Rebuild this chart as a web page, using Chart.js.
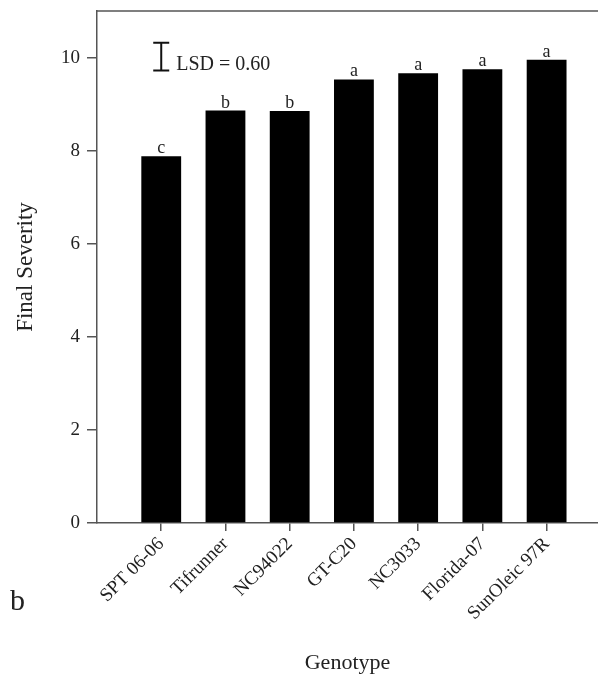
<!DOCTYPE html>
<html>
<head>
<meta charset="utf-8">
<script src="https://cdn.jsdelivr.net/npm/chart.js@4/dist/chart.umd.min.js"></script>
<style>
  html, body { margin: 0; padding: 0; background: #fff; }
</style>
</head>
<body>
<canvas id="chart" width="598" height="686"></canvas>
<script>
const genotypes = ['SPT 06-06', 'Tifrunner', 'NC94022', 'GT-C20', 'NC3033', 'Florida-07', 'SunOleic 97R'];
const finalSeverity = [7.88, 8.86, 8.85, 9.53, 9.66, 9.75, 9.95];
const groupLetters = ['c', 'b', 'b', 'a', 'a', 'a', 'a'];
const yTicks = [0, 2, 4, 6, 8, 10];
const lsd = 0.60;
const lsdTop = 10.32;

const serif = "'Liberation Serif', 'Times New Roman', serif";
const axisColor = '#555';

// letters above bars, LSD bar, top frame line, panel letter
const extras = {
  id: 'extras',
  afterDatasetsDraw(chart) {
    const { ctx, chartArea, scales } = chart;
    const meta = chart.getDatasetMeta(0);
    ctx.save();
    ctx.fillStyle = '#222';
    ctx.font = '18px ' + serif;
    ctx.textAlign = 'center';
    ctx.textBaseline = 'alphabetic';
    meta.data.forEach((bar, i) => {
      ctx.fillText(groupLetters[i], bar.x, bar.y - 3);
    });

    // frame line across the top
    ctx.strokeStyle = axisColor;
    ctx.lineWidth = 1.5;
    ctx.beginPath();
    ctx.moveTo(chartArea.left, chartArea.top);
    ctx.lineTo(chartArea.right, chartArea.top);
    ctx.stroke();

    // LSD bar
    const x = scales.x.getPixelForValue(1);
    const y1 = scales.y.getPixelForValue(lsdTop);
    const y2 = scales.y.getPixelForValue(lsdTop - lsd);
    ctx.strokeStyle = '#111';
    ctx.lineWidth = 2;
    ctx.beginPath();
    ctx.moveTo(x, y1); ctx.lineTo(x, y2);
    ctx.moveTo(x - 8, y1); ctx.lineTo(x + 8, y1);
    ctx.moveTo(x - 8, y2); ctx.lineTo(x + 8, y2);
    ctx.stroke();
    ctx.textAlign = 'left';
    ctx.font = '20px ' + serif;
    ctx.fillText('LSD = ' + lsd.toFixed(2), x + 15, y2 - 1);

    ctx.font = '30px ' + serif;
    ctx.fillText('b', 10, 610);
    ctx.restore();
  }
};

new Chart(document.getElementById('chart'), {
  type: 'bar',
  data: {
    datasets: [{
      data: finalSeverity.map((v, i) => ({ x: i + 1, y: v })),
      backgroundColor: '#000',
      borderWidth: 0,
      barPercentage: 0.62,
      categoryPercentage: 1,
    }],
  },
  options: {
    responsive: false,
    animation: false,
    devicePixelRatio: 1,
    layout: { padding: { top: 11, right: 0, left: 0, bottom: 0 } },
    plugins: { legend: { display: false }, tooltip: { enabled: false } },
    scales: {
      x: {
        type: 'linear',
        min: 0,
        max: 7.8,
        offset: false,
        afterBuildTicks: scale => { scale.ticks = genotypes.map((_, i) => ({ value: i + 1 })); },
        afterFit: scale => { scale.height = 163; scale.paddingLeft = 0; scale.paddingRight = 0; },
        grid: { offset: false, drawOnChartArea: false, tickLength: 8, color: axisColor, lineWidth: 1.5 },
        border: { color: axisColor, width: 1.5 },
        ticks: {
          autoSkip: false,
          minRotation: 45,
          maxRotation: 45,
          padding: 2,
          color: '#222',
          font: { family: serif, size: 19 },
          callback: v => genotypes[v - 1] || '',
        },
        title: {
          display: true,
          text: 'Genotype',
          color: '#222',
          font: { family: serif, size: 22 },
          padding: { top: 4, bottom: 10 },
        },
      },
      y: {
        min: 0,
        max: 11,
        afterBuildTicks: scale => { scale.ticks = yTicks.map(v => ({ value: v })); },
        afterFit: scale => { scale.width = 97; scale.paddingTop = 0; scale.paddingBottom = 0; },
        grid: { drawOnChartArea: false, tickLength: 10, color: axisColor, lineWidth: 1.5 },
        border: { color: axisColor, width: 1.5 },
        ticks: {
          padding: 7,
          color: '#222',
          font: { family: serif, size: 19 },
        },
        title: {
          display: true,
          text: 'Final Severity',
          color: '#222',
          font: { family: serif, size: 23 },
          padding: { top: 12, bottom: 0 },
        },
      },
    },
  },
  plugins: [extras],
});
</script>
</body>
</html>
